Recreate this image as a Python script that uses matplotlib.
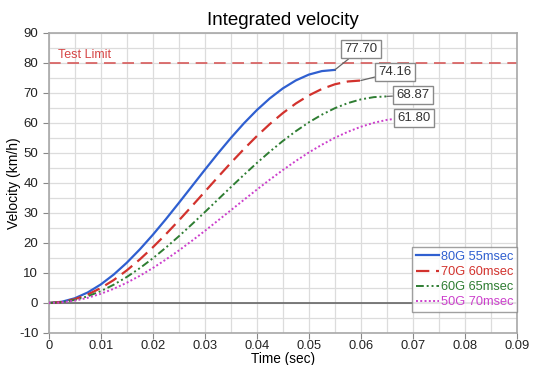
import matplotlib
matplotlib.use("Agg")
import matplotlib.pyplot as plt
from matplotlib.ticker import MultipleLocator, FuncFormatter

plt.rcParams['font.family'] = ['Liberation Sans', 'DejaVu Sans']
plt.rcParams['axes.unicode_minus'] = False

# time samples (sec), every 2.5 ms
t_80g = [i * 0.0025 for i in range(23)]
t_70g = [i * 0.0025 for i in range(25)]
t_60g = [i * 0.0025 for i in range(27)]
t_50g = [i * 0.0025 for i in range(29)]

v_80g = [0, 0.40, 1.57, 3.51, 6.17, 9.49, 13.41, 17.85, 22.71, 27.90, 33.32, 38.85,
         44.38, 49.80, 54.99, 59.85, 64.29, 68.21, 71.53, 74.19, 76.13, 77.30, 77.70]
v_70g = [0, 0.32, 1.26, 2.82, 4.97, 7.66, 10.86, 14.51, 18.54, 22.89, 27.48, 32.24,
         37.08, 41.92, 46.68, 51.27, 55.62, 59.65, 63.30, 66.50, 69.19, 71.34, 72.90,
         73.84, 74.16]
v_60g = [0, 0.25, 1.00, 2.24, 3.94, 6.10, 8.66, 11.60, 14.87, 18.43, 22.22, 26.19,
         30.28, 34.44, 38.59, 42.68, 46.65, 50.44, 54.00, 57.27, 60.21, 62.77, 64.93,
         66.63, 67.87, 68.62, 68.87]
v_50g = [0, 0.19, 0.77, 1.73, 3.06, 4.74, 6.74, 9.05, 11.63, 14.46, 17.49, 20.69,
         24.02, 27.44, 30.90, 34.36, 37.78, 41.11, 44.31, 47.34, 50.17, 52.75, 55.06,
         57.06, 58.74, 60.07, 61.03, 61.61, 61.80]

labels = ["80G 55msec", "70G 60msec", "60G 65msec", "50G 70msec"]
peak_labels = ["77.70", "74.16", "68.87", "61.80"]
test_limit = 80

fig = plt.figure(figsize=(5.39, 3.65), dpi=100)
ax = fig.add_axes([0.0904, 0.0877, 0.8686, 0.8219])

colors = ["#2f5fd0", "#d2322d", "#2e7d32", "#cc3fcc"]
series = [(t_80g, v_80g), (t_70g, v_70g), (t_60g, v_60g), (t_50g, v_50g)]
styles = [dict(linestyle='-', linewidth=1.6),
          dict(linestyle=(0, (6, 3)), linewidth=1.6),
          dict(linestyle=(0, (4, 1.5, 1, 1.5, 1, 1.5)), linewidth=1.4),
          dict(linestyle=(0, (1, 1.2)), linewidth=1.4)]

lines = []
for (tt, vv), c, st, lab in zip(series, colors, styles, labels):
    ln, = ax.plot(tt, vv, color=c, label=lab, zorder=3, **st)
    lines.append(ln)

# zero line and test limit
ax.axhline(0, color="#666666", linewidth=1.2, zorder=2)
ax.axhline(test_limit, color="#d65a5a", linestyle=(0, (7, 4)), linewidth=1.2, zorder=2)
ax.text(0.0018, test_limit + 2.6, "Test Limit", color="#d64545", fontsize=9,
        va='center', ha='left')

ax.set_xlim(0, 0.09)
ax.set_ylim(-10, 90)
ax.xaxis.set_major_locator(MultipleLocator(0.01))
ax.xaxis.set_minor_locator(MultipleLocator(0.005))
ax.yaxis.set_major_locator(MultipleLocator(10))
ax.yaxis.set_minor_locator(MultipleLocator(5))
ax.xaxis.set_major_formatter(FuncFormatter(lambda v, p: "0" if abs(v) < 1e-9 else f"{v:.2f}"))
ax.yaxis.set_major_formatter(FuncFormatter(lambda v, p: f"{v:.0f}"))
ax.grid(True, which='both', color="#dcdcdc", linewidth=0.9, zorder=0)
ax.set_axisbelow(True)
ax.tick_params(which='major', length=4, color="#888888", labelsize=9.5, labelcolor="#222222")
ax.tick_params(axis='x', which='major', pad=1, labelsize=9.3)
ax.tick_params(which='minor', length=0)
for s in ax.spines.values():
    s.set_color("#a8a8a8")
    s.set_linewidth(1.2)

ax.set_title("Integrated velocity", fontsize=13.5, pad=6)
ax.set_xlabel("Time (sec)", fontsize=9.8)
ax.xaxis.set_label_coords(0.5, -0.062)
ax.set_ylabel("Velocity (km/h)", fontsize=10)
ax.yaxis.set_label_coords(-0.06, 0.5)

bbox = dict(boxstyle="square,pad=0.25", fc="white", ec="#8a8a8a", lw=1.0)
# value boxes at the end of each curve
ends = [(t_80g[-1], v_80g[-1]), (t_70g[-1], v_70g[-1]), (t_60g[-1], v_60g[-1]), (t_50g[-1], v_50g[-1])]
text_pos = [(0.0568, 84.6), (0.0634, 77.0), (0.0668, 69.3), (0.0671, 61.6)]
for (ex, ey), (tx, ty), s in zip(ends, text_pos, peak_labels):
    ax.annotate(s, xy=(ex, ey), xytext=(tx, ty), fontsize=9.5, color="#333333",
                ha='left', va='center', bbox=bbox, zorder=5,
                arrowprops=dict(arrowstyle='-', color="#666666", lw=0.9,
                                shrinkA=0, shrinkB=0))

leg = ax.legend(handles=lines, loc='lower right', bbox_to_anchor=(1.0, 0.069),
                borderaxespad=0, fontsize=9.2, handlelength=1.8, handletextpad=0.1,
                labelspacing=0.25, borderpad=0.3, frameon=True, fancybox=False)
leg.get_frame().set_edgecolor("#888888")
leg.get_frame().set_linewidth(1.0)
for txt, c in zip(leg.get_texts(), colors):
    txt.set_color(c)

fig.savefig("out.png", dpi=100)
